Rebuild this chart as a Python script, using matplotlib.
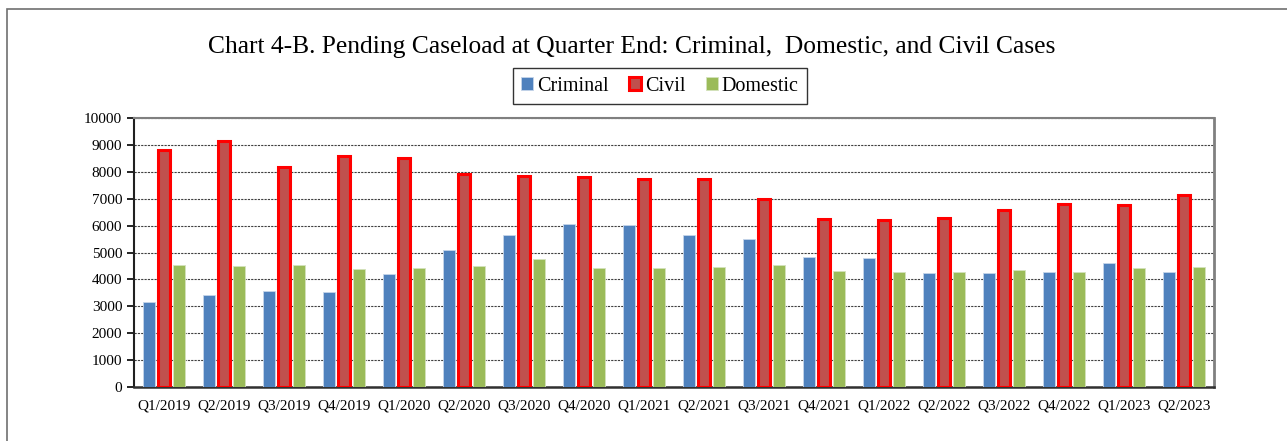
import numpy as np
import matplotlib.pyplot as plt
from matplotlib.patches import Rectangle

quarters = ["Q1/2019", "Q2/2019", "Q3/2019", "Q4/2019", "Q1/2020", "Q2/2020",
            "Q3/2020", "Q4/2020", "Q1/2021", "Q2/2021", "Q3/2021", "Q4/2021",
            "Q1/2022", "Q2/2022", "Q3/2022", "Q4/2022", "Q1/2023", "Q2/2023"]
criminal = [3170, 3420, 3570, 3540, 4190, 5090, 5650, 6070, 6010, 5640,
            5500, 4830, 4800, 4240, 4220, 4290, 4620, 4270]
civil = [8820, 9150, 8190, 8580, 8520, 7910, 7840, 7790, 7730, 7750,
         6980, 6250, 6190, 6290, 6580, 6810, 6770, 7130]
domestic = [4530, 4480, 4520, 4370, 4420, 4500, 4760, 4430, 4430, 4470,
            4520, 4300, 4260, 4270, 4350, 4260, 4410, 4450]

plt.rcParams['font.family'] = ['Liberation Serif', 'DejaVu Serif']

fig = plt.figure(figsize=(12.87, 4.41), dpi=100)
ax = fig.add_axes([134 / 1287, 1 - 387 / 441, 1080 / 1287, 269 / 441])

x = np.arange(len(quarters))
w = 0.2
ax.bar(x - 0.25, criminal, w, color='#4F81BD', edgecolor='#C6D5EA', lw=0.6,
       label='Criminal', zorder=3)
ax.bar(x, civil, w, color='#C0504D', edgecolor='#FF0000', lw=2.2,
       label='Civil', zorder=3)
ax.bar(x + 0.25, domestic, w, color='#9BBB59', edgecolor='#D4E2BC', lw=0.6,
       label='Domestic', zorder=3)

ax.set_xlim(-0.5, len(quarters) - 0.5)
ax.set_ylim(0, 10000)
ax.set_yticks(np.arange(0, 10001, 1000))
ax.set_xticks(x)
ax.set_xticklabels(quarters, fontsize=11)
ax.tick_params(axis='x', length=0, pad=9)
ax.tick_params(axis='y', labelsize=11, length=5, direction='out', width=1.2)
ax.yaxis.grid(True, linestyle=(0, (2, 1)), color='#404040', lw=0.8, zorder=0)

ax.spines['left'].set_color('#202020')
ax.spines['left'].set_linewidth(1.5)
ax.spines['bottom'].set_color('#303030')
ax.spines['bottom'].set_linewidth(1.8)
ax.spines['top'].set_color('#808080')
ax.spines['top'].set_linewidth(1.5)
ax.spines['right'].set_color('#808080')
ax.spines['right'].set_linewidth(2)

fig.text(632 / 1287, 1 - 47 / 441,
         "Chart 4-B. Pending Caseload at Quarter End: Criminal,  Domestic, and Civil Cases",
         ha='center', va='center', fontsize=18.4)

leg = fig.legend(loc='center', bbox_to_anchor=(660 / 1287, 1 - 86 / 441),
                 ncol=3, fontsize=14.5, frameon=True, fancybox=False,
                 handlelength=0.6, handleheight=0.6, handletextpad=0.2,
                 columnspacing=1.0, borderpad=0.4)
leg.get_frame().set_edgecolor('black')
leg.get_frame().set_linewidth(1.0)

# outer chart border (only left and top visible)
fig.patches.append(Rectangle((7 / 1287, -0.1), 1.2, 1 - 9 / 441 + 0.1,
                             transform=fig.transFigure, fill=False,
                             edgecolor='#707070', lw=1.2))

fig.savefig('out.png', dpi=100)
